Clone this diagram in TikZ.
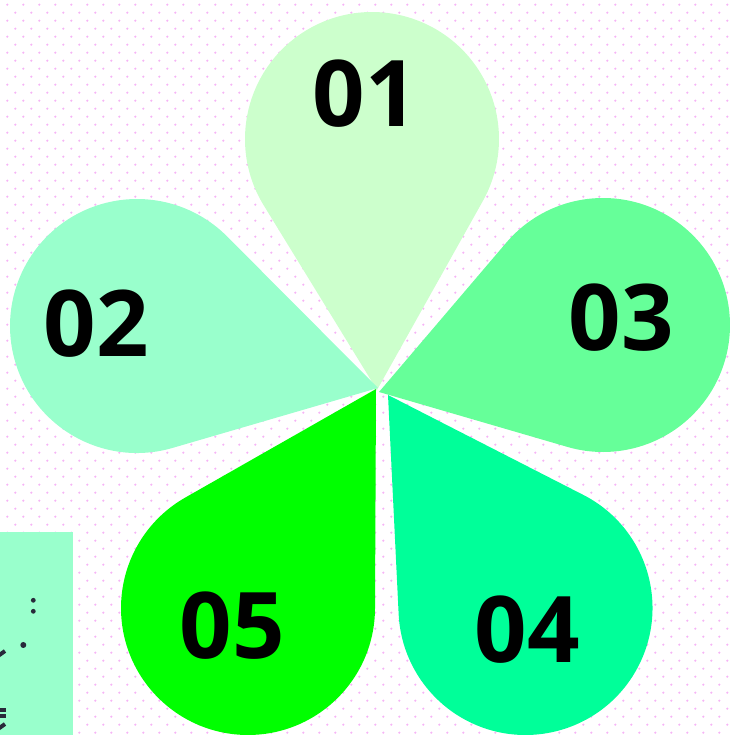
\documentclass[tikz,border=0pt]{standalone}
\usepackage{fontspec}
\setmainfont{Open Sans}
\usepackage{tikz}
\usetikzlibrary{calc}

\definecolor{petalA}{RGB}{204,255,204}
\definecolor{petalB}{RGB}{153,255,204}
\definecolor{petalC}{RGB}{102,255,153}
\definecolor{petalD}{RGB}{0,255,153}
\definecolor{petalE}{RGB}{0,255,0}
\definecolor{dotpink}{RGB}{246,180,246}
\definecolor{inkdark}{RGB}{40,42,58}

\begin{document}
\begin{tikzpicture}[x=1pt,y=1pt]
	\useasboundingbox (0,0) rectangle (730,735);
	\clip (0,0) rectangle (730,735);

	% dotted background
	\foreach \k in {0,...,91}{
		\pgfmathsetmacro{\yy}{730.3-8*\k}
		\pgfmathsetmacro{\xo}{mod(\k,2)==0 ? 7.3 : 15.3}
		\foreach \j in {0,...,45}
			\fill[dotpink] (\xo+16*\j,\yy) circle (1.2);
	}

	% side card, mostly cut off
	\fill[petalB] (0,0) rectangle (73,203);
	\begin{scope}[inkdark]
		\fill (33.3,134.7) circle (2.4);
		\fill (33.3,123.7) circle (2.4);
		\fill (23.3,90) circle (3);
		\draw[line width=4] (-2,79) -- (5,84);
		\draw[line width=3.5] (-2,25) -- (6,25);
		\draw[line width=3.5] (-2,19) -- (6,19);
		\draw[line width=4] (-2,6) -- (5,11);
	\end{scope}

	% petals: circle centre, tip
	\foreach \name/\col/\cx/\cy/\tx/\ty in {01/petalA/372/596/377/345,
			02/petalB/137/409/378/347,
			03/petalC/603/410/379/343,
			04/petalD/525.5/127/388/340,
			05/petalE/248/127/376/346}{
		\coordinate (c\name) at (\cx,\cy);
		\coordinate (t\name) at (\tx,\ty);
		\fill[\col] let \p1=($(c\name)-(t\name)$),
			\n1={atan2(\y1,\x1)}, \n2={veclen(\x1,\y1)}, \n3={asin(127/\n2)} in
			(t\name) -- ++(\n1+\n3:{\n2*cos(\n3)*1pt})
			arc[start angle=\n1+\n3+90, end angle=\n1-\n3-90, radius=127pt] -- cycle;
	}

	\begin{scope}[every node/.style={inner sep=0pt,font=\fontsize{92}{92}\selectfont\bfseries}]
		\node (n01) at (365,641) {01};
		\node (n02) at (96,411) {02};
		\node (n03) at (621,417) {03};
		\node (n04) at (527,105) {04};
		\node (n05) at (232,109) {05};
	\end{scope}
\end{tikzpicture}
\end{document}
